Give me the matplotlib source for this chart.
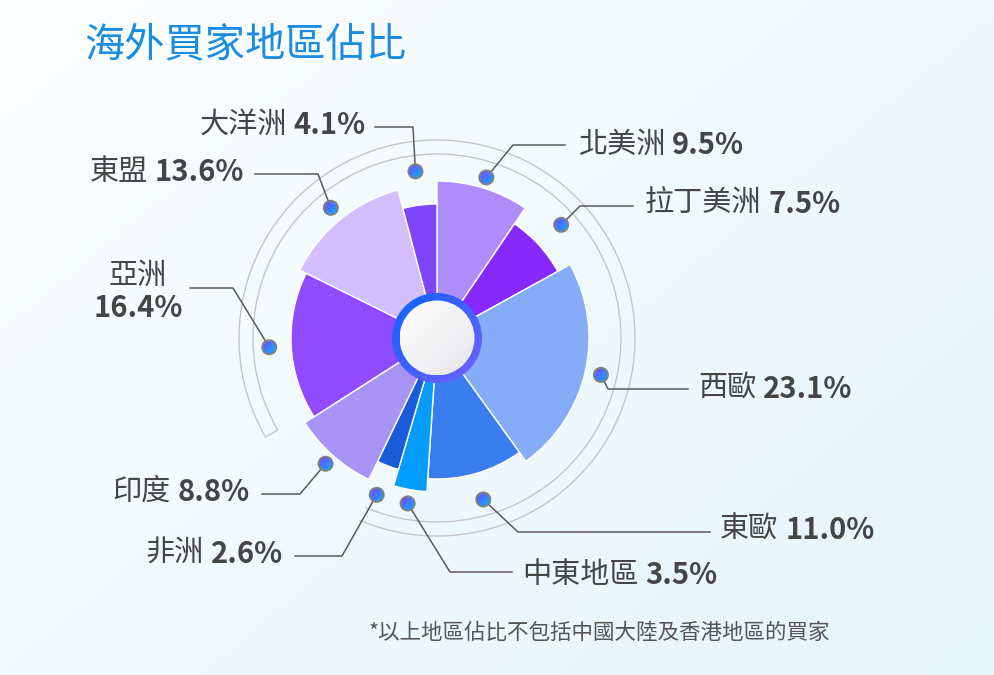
import numpy as np
import matplotlib.pyplot as plt
from matplotlib.patches import Wedge, Circle, Arc, Annulus
from matplotlib.colors import LinearSegmentedColormap

plt.rcParams['font.family'] = ['Noto Sans CJK TC', 'DejaVu Sans']

# data, clockwise from 12 o'clock
regions = ['北美洲', '拉丁美洲', '西歐', '東歐', '中東地區', '非洲', '印度', '亞洲', '東盟', '大洋洲']
shares = [9.5, 7.5, 23.1, 11.0, 3.5, 2.6, 8.8, 16.4, 13.6, 4.1]
# petal length of each sector (px)
petal_len = [157, 138, 152, 141, 154, 137, 157, 146, 153, 134]
colors = ['#ae8dfb', '#8629fa', '#85adf7', '#3a7dee', '#049dfe',
          '#185bdb', '#a893f6', '#914bfe', '#d3bffd', '#7d45f7']

title = '海外買家地區佔比'
note = '*以上地區佔比不包括中國大陸及香港地區的買家'

W, H = 995, 675
fig = plt.figure(figsize=(W / 100, H / 100), dpi=100)
ax = fig.add_axes([0, 0, 1, 1])
ax.axis('off')


def yy(y):
    # picture coords (y down) -> axes coords (y up)
    return H - y


def grad_fill(patch, c0, c1, zorder, n=64):
    patch.set_facecolor('none')
    patch.set_zorder(zorder + 0.1)
    ax.add_patch(patch)
    ext = patch.get_path().get_extents(patch.get_patch_transform())
    a = np.linspace(0, 1, n)
    g = (a[None, :] + a[:, None]) / 2
    cm = LinearSegmentedColormap.from_list('g', [c0, c1])
    im = ax.imshow(g, cmap=cm, extent=(ext.x0, ext.x1, ext.y0, ext.y1),
                   origin='upper', aspect='auto', zorder=zorder, interpolation='bilinear')
    im.set_clip_path(patch)
    return im


# background
a = np.linspace(0, 1, 200)
bg = a[None, :] * 0.55 + a[:, None] * 0.45
ax.imshow(bg, cmap=LinearSegmentedColormap.from_list('bg', ['#fdfeff', '#e4f5fb']),
          extent=(0, W, 0, H), origin='upper', aspect='auto', zorder=0)

cx, cy = 437, yy(338)

# decorative grey arcs
arc_c = '#c6c6c6'
for r in (184, 198):
    ax.add_patch(Arc((cx, cy), 2 * r, 2 * r, theta1=-113, theta2=210,
                     color=arc_c, lw=1.0, zorder=1))
t = np.deg2rad(210)
ax.plot([cx + 184 * np.cos(t), cx + 198 * np.cos(t)],
        [cy + 184 * np.sin(t), cy + 198 * np.sin(t)], color=arc_c, lw=1.0, zorder=1)

# rose sectors
total = sum(shares)
cum = np.concatenate([[0], np.cumsum(shares)]) / total * 360
mids = []
for i, (v, r, c) in enumerate(zip(shares, petal_len, colors)):
    t2 = 90 - cum[i]
    t1 = 90 - cum[i + 1]
    ax.add_patch(Wedge((cx, cy), r, t1, t2, facecolor=c, edgecolor='white', lw=1.0, zorder=2))
    mids.append(np.deg2rad((t1 + t2) / 2))

# centre ring + disc
grad_fill(Annulus((cx, cy), 45, 8), '#0b63ff', '#7560ff', zorder=3)
grad_fill(Circle((cx, cy), 37.5, edgecolor='none'), '#ffffff', '#e6e6ea', zorder=4)

# label layout: elbow point, line end, text anchor (picture coords)
elbows = [(513, 145), (580, 206), (608, 389), (518, 532), (450, 572),
          (342, 556), (300, 494), (233, 288), (318, 174), (413, 127)]
line_ends = [(565, 145), (633, 206), (688, 389), (710, 532), (512, 572),
             (295, 556), (262, 494), (190, 288), (255, 174), (375, 127)]
text_pos = [(578, 145), (645, 204), (698, 389), (720, 530), (522, 575),
            (283, 554), (250, 492), (138, 292), (244, 172), (366, 125)]
sides = ['left', 'left', 'left', 'left', 'left',
         'right', 'right', 'center', 'right', 'right']

dot_r = 168
fs = 21
tc = '#454545'
for i, name in enumerate(regions):
    dx = cx + dot_r * np.cos(mids[i])
    dy = cy + dot_r * np.sin(mids[i])
    ex, ey = elbows[i]
    lx, ly = line_ends[i]
    ax.plot([dx, ex, lx], [dy, yy(ey), yy(ly)], color='#5a5a5a', lw=1.1, zorder=5)
    grad_fill(Circle((dx, dy), 7, edgecolor='#808080', lw=1.4), '#8040ff', '#00b4ff', zorder=6)

    tx, ty = text_pos[i]
    val = f'{shares[i]:.1f}%'
    if sides[i] == 'left':
        t_name = ax.text(tx, yy(ty), name, fontsize=fs, color=tc, ha='left', va='center', zorder=7)
        ax.annotate(val, xy=(1, 0.5), xycoords=t_name, xytext=(5, 0), textcoords='offset points',
                    fontsize=fs, fontweight='bold', color=tc, ha='left', va='center', zorder=7)
    elif sides[i] == 'right':
        t_val = ax.text(tx, yy(ty), val, fontsize=fs, fontweight='bold', color=tc,
                        ha='right', va='center', zorder=7)
        ax.annotate(name, xy=(0, 0.5), xycoords=t_val, xytext=(-5, 0), textcoords='offset points',
                    fontsize=fs, color=tc, ha='right', va='center', zorder=7)
    else:
        ax.text(tx, yy(ty) + 16, name, fontsize=fs, color=tc, ha='center', va='center', zorder=7)
        ax.text(tx, yy(ty) - 16, val, fontsize=fs, fontweight='bold', color=tc,
                ha='center', va='center', zorder=7)

ax.text(84, yy(45), title, fontsize=29, color='#1a8de3', fontweight='medium',
        ha='left', va='center', zorder=7)
ax.text(369, yy(633), note, fontsize=15.5, color='#555555', ha='left', va='center', zorder=7)

ax.set_xlim(0, W)
ax.set_ylim(0, H)
fig.savefig('out.png', dpi=100)
